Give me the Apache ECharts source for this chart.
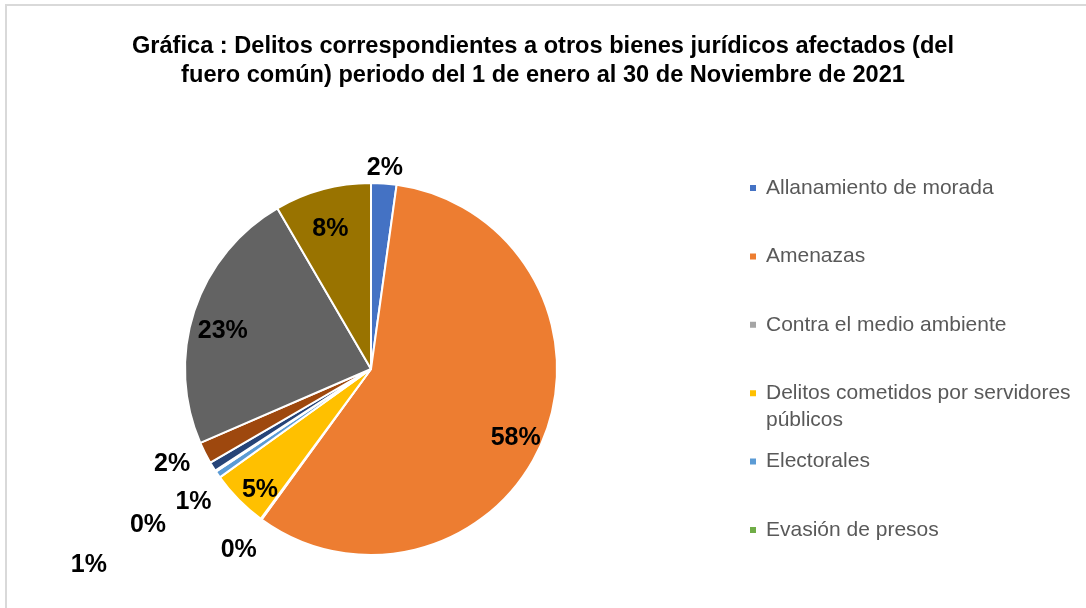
<!DOCTYPE html>
<html>
<head>
<meta charset="utf-8">
<script src="https://cdn.jsdelivr.net/npm/echarts@6.0.0/dist/echarts.min.js"></script>
<style>
  html, body { margin: 0; padding: 0; background: #fff; }
  #grafica { width: 1086px; height: 608px; }
</style>
</head>
<body>
<div id="grafica"></div>
<script>
// Datos (% del total)
const categorias = [
  'Allanamiento de morada',
  'Amenazas',
  'Contra el medio ambiente',
  'Delitos cometidos por servidores públicos',
  'Electorales',
  'Evasión de presos',
  'Falsedad',
  'Falsificación',
  'Narcomenudeo',
  'Otros delitos del Fuero Común'
];
const porcentajes = [2.2, 57.8, 0.1, 5.0, 0.6, 0.1, 0.8, 1.9, 23.1, 8.4];
// la leyenda del original está cortada: sólo se ven las 6 primeras
const enLeyenda = categorias.slice(0, 6);

const colores = ['#4472C4', '#ED7D31', '#A5A5A5', '#FFC000', '#5B9BD5', '#70AD47', '#264478', '#9E480E', '#636363', '#997300'];
const fuente = '"Liberation Sans", Arial, sans-serif';
const centro = [371, 369];
const radio = 186;

// distancia al centro (px) de cada etiqueta de %, imitando cómo las coloca Excel
const anillosEtiqueta = [
  {r: 156, offset: [0, 11], nombres: ['Amenazas', 'Delitos cometidos por servidores públicos', 'Narcomenudeo', 'Otros delitos del Fuero Común']},
  {r: 201, offset: [0, 0], nombres: ['Allanamiento de morada']},
  {r: 224, offset: [0, 0], nombres: ['Contra el medio ambiente']},
  {r: 224, offset: [7, 6], nombres: ['Electorales']},
  {r: 224, offset: [1, -6], nombres: ['Falsificación']},
  {r: 274, offset: [6, 6], nombres: ['Evasión de presos']},
  {r: 341, offset: [8, 17], nombres: ['Falsedad']}
];
const dosLineas = 'Delitos cometidos por servidores públicos';

const total = porcentajes.reduce((a, b) => a + b, 0);
const pctFormatter = (p) => Math.round(p.value / total * 100) + '%';

const seriePrincipal = {
  type: 'pie',
  center: centro,
  radius: radio,
  startAngle: 90,
  clockwise: true,
  silent: true,
  itemStyle: {borderColor: '#fff', borderWidth: 2},
  label: {show: false},
  labelLine: {show: false},
  emphasis: {disabled: true},
  data: categorias.map((name, i) => ({name, value: porcentajes[i]}))
};

// series transparentes, sólo para poner las etiquetas a cierta distancia del centro
const seriesEtiquetas = anillosEtiqueta.map((anillo) => ({
  type: 'pie',
  center: centro,
  radius: [anillo.r - 13, anillo.r + 7],
  startAngle: 90,
  clockwise: true,
  silent: true,
  avoidLabelOverlap: false,
  itemStyle: {color: 'rgba(0,0,0,0)', borderWidth: 0},
  label: {
    position: 'inside',
    offset: anillo.offset,
    formatter: pctFormatter,
    color: '#000',
    fontFamily: fuente,
    fontSize: 25,
    fontWeight: 'bold',
    textBorderWidth: 0
  },
  labelLine: {show: false},
  emphasis: {disabled: true},
  data: categorias.map((name, i) => ({
    name,
    value: porcentajes[i],
    label: {show: anillo.nombres.includes(name)}
  }))
}));

// una leyenda por elemento, a paso fijo como en Excel
const leyendas = enLeyenda.map((name, i) => {
  const partida = name === dosLineas;
  const cy = 188 + i * 68.4;
  return {
    orient: 'vertical',
    left: 748,
    top: cy - (partida ? 40.5 : 13.5),
    padding: 0,
    data: [name],
    icon: 'rect',
    itemWidth: 8,
    itemHeight: 8,
    selectedMode: false,
    // línea vacía arriba para que el icono quede a la altura del primer renglón
    formatter: partida ? '\nDelitos cometidos por servidores\npúblicos' : '{name}',
    textStyle: {
      fontFamily: fuente,
      fontSize: 21,
      color: '#595959',
      lineHeight: 27,
      padding: [0, 0, 0, 4]
    }
  };
});

const chart = echarts.init(document.getElementById('grafica'));
chart.setOption({
  animation: false,
  backgroundColor: '#fff',
  color: colores,
  title: {
    text: 'Gráfica : Delitos correspondientes a otros bienes jurídicos afectados (del\nfuero común) periodo del 1 de enero al 30 de Noviembre de 2021',
    left: 'center',
    top: 32,
    padding: 0,
    textStyle: {fontFamily: fuente, fontSize: 23.6, fontWeight: 'bold', color: '#000', lineHeight: 29}
  },
  legend: leyendas,
  graphic: [{
    type: 'rect',
    shape: {x: 6, y: 5, width: 1100, height: 700},
    style: {fill: 'none', stroke: '#d9d9d9', lineWidth: 2},
    silent: true
  }],
  series: [seriePrincipal].concat(seriesEtiquetas)
});
</script>
</body>
</html>
